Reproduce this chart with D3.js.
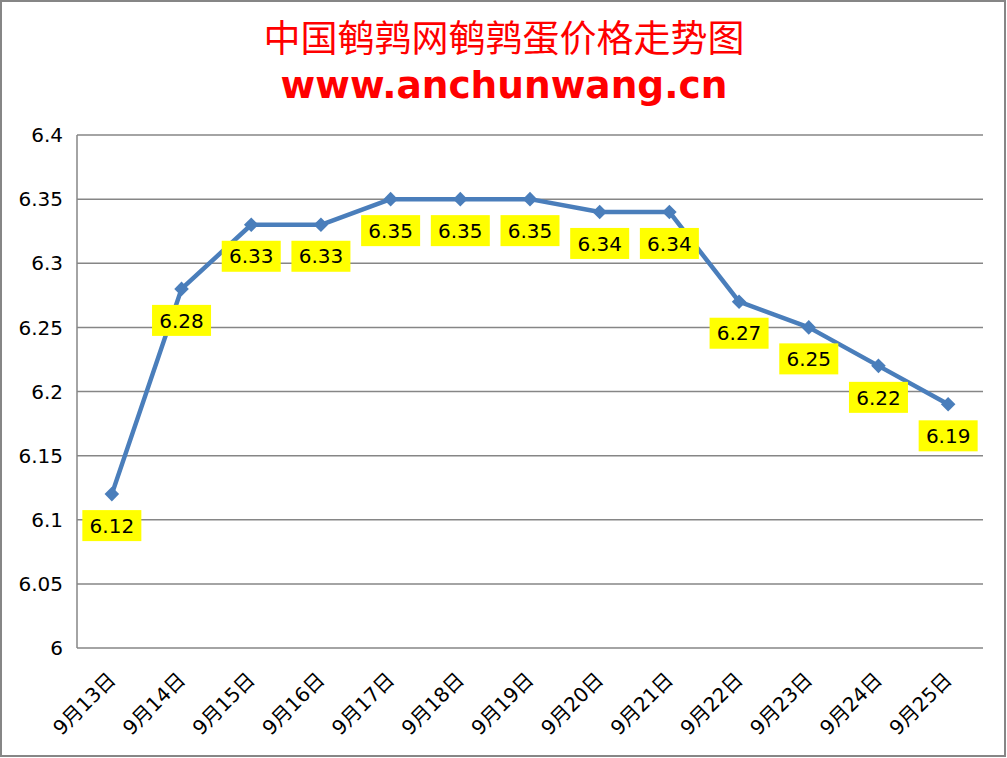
<!DOCTYPE html>
<html>
<head>
<meta charset="utf-8">
<script src="https://cdn.jsdelivr.net/npm/d3@7/dist/d3.min.js"></script>
<style>
  body { margin: 0; background: #fff; }
  svg { display: block; }
</style>
</head>
<body>
<svg id="chart" width="1007" height="758"></svg>
<script>
// chart data
const dates = ["9月13日", "9月14日", "9月15日", "9月16日", "9月17日", "9月18日", "9月19日",
               "9月20日", "9月21日", "9月22日", "9月23日", "9月24日", "9月25日"];
const prices = [6.12, 6.28, 6.33, 6.33, 6.35, 6.35, 6.35, 6.34, 6.34, 6.27, 6.25, 6.22, 6.19];
const yTicks = [6, 6.05, 6.1, 6.15, 6.2, 6.25, 6.3, 6.35, 6.4];

const width = 1007, height = 758;
const margin = {top: 135, right: 24, bottom: 110, left: 77};

const svg = d3.select("#chart");

// outer frame
svg.append("rect")
    .attr("x", 1).attr("y", 1)
    .attr("width", width - 3).attr("height", height - 3)
    .attr("fill", "#fff")
    .attr("stroke", "#868686")
    .attr("stroke-width", 2);

// titles
svg.append("text")
    .attr("x", 504).attr("y", 52)
    .attr("text-anchor", "middle")
    .attr("font-family", "'Noto Sans CJK SC'")
    .attr("font-size", 37)
    .attr("fill", "#ff0000")
    .text("中国鹌鹑网鹌鹑蛋价格走势图");

svg.append("text")
    .attr("x", 504).attr("y", 98)
    .attr("text-anchor", "middle")
    .attr("font-family", "'DejaVu Sans'")
    .attr("font-weight", "bold")
    .attr("font-size", 37.5)
    .attr("fill", "#ff0000")
    .text("www.anchunwang.cn");

const x = d3.scaleBand()
    .domain(dates)
    .range([margin.left, width - margin.right]);

const y = d3.scaleLinear()
    .domain([6, 6.4])
    .range([height - margin.bottom, margin.top]);

const cx = d => x(d) + x.bandwidth() / 2;

// horizontal gridlines
svg.append("g")
    .selectAll("line")
    .data(yTicks)
    .join("line")
    .attr("x1", margin.left)
    .attr("x2", width - margin.right)
    .attr("y1", d => y(d))
    .attr("y2", d => y(d))
    .attr("stroke", "#868686")
    .attr("stroke-width", 1.5);

// left axis line
svg.append("line")
    .attr("x1", margin.left).attr("x2", margin.left)
    .attr("y1", y(6.4)).attr("y2", y(6))
    .attr("stroke", "#868686")
    .attr("stroke-width", 1.5);

// y tick labels
svg.append("g")
    .selectAll("text")
    .data(yTicks)
    .join("text")
    .attr("x", 63)
    .attr("y", d => y(d))
    .attr("dy", "0.36em")
    .attr("text-anchor", "end")
    .attr("font-family", "'DejaVu Sans'")
    .attr("font-size", 20)
    .attr("fill", "#000")
    .text(d => d3.format("")(+d.toFixed(2)));

// x tick labels, rotated
svg.append("g")
    .selectAll("text")
    .data(dates)
    .join("text")
    .attr("transform", d => `translate(${cx(d) + 5},${y(6) + 33}) rotate(-45)`)
    .attr("text-anchor", "end")
    .attr("font-family", "'DejaVu Sans', 'Noto Sans CJK SC'")
    .attr("font-size", 20)
    .attr("fill", "#000")
    .text(d => d);

// price line
const line = d3.line()
    .x((d, i) => cx(dates[i]))
    .y(d => y(d));

svg.append("path")
    .datum(prices)
    .attr("d", line)
    .attr("fill", "none")
    .attr("stroke", "#4a7ebb")
    .attr("stroke-width", 4.5)
    .attr("stroke-linejoin", "round");

// diamond markers
svg.append("g")
    .selectAll("path")
    .data(prices)
    .join("path")
    .attr("transform", (d, i) => `translate(${cx(dates[i])},${y(d)})`)
    .attr("d", d3.symbol(d3.symbolDiamond2, 135))
    .attr("fill", "#4a7ebb");

// data labels with yellow background
const labels = svg.append("g")
    .selectAll("g")
    .data(prices)
    .join("g")
    .attr("transform", (d, i) => `translate(${cx(dates[i])},${y(d) + 31.5})`);

labels.append("rect")
    .attr("x", -29.5).attr("y", -15.5)
    .attr("width", 59).attr("height", 31)
    .attr("fill", "#ffff00");

labels.append("text")
    .attr("text-anchor", "middle")
    .attr("dy", "0.36em")
    .attr("font-family", "'DejaVu Sans'")
    .attr("font-size", 20)
    .attr("fill", "#000")
    .text(d => d.toFixed(2));
</script>
</body>
</html>
